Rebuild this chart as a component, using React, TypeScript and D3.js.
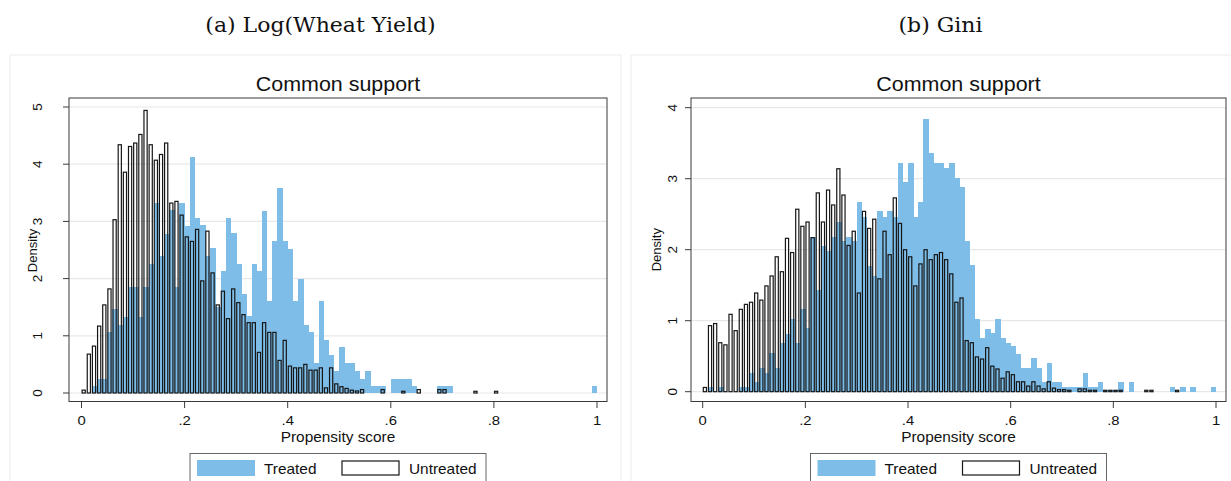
import React from "react";
import * as d3 from "d3";

// ---------- DATA (bin width 0.01, bins start at 0) ----------
const BIN_WIDTH = 0.01;

const leftTreated = [
  0, 0, 0.13, 0.25, 0.25, 1.06, 1.46, 1.19, 1.33, 1.85,
  1.85, 1.33, 1.85, 2.25, 3.32, 2.39, 2.78, 3.2, 1.85, 3.32,
  2.92, 4.12, 3.06, 2.93, 2.4, 2.53, 1.5, 2.13, 3.06, 2.79,
  2.26, 1.73, 1.34, 2.26, 2.13, 3.19, 1.6, 2.65, 3.59, 2.65,
  2.52, 1.6, 1.99, 1.19, 1.06, 0.53, 1.6, 0.92, 0.66, 0.38,
  0.8, 0.53, 0.53, 0.38, 0.25, 0.38, 0.13, 0.13, 0.13, 0,
  0.25, 0.25, 0.25, 0.25, 0.13, 0, 0, 0, 0, 0.13,
  0.13, 0.13, 0, 0, 0, 0, 0, 0, 0, 0,
  0, 0, 0, 0, 0, 0, 0, 0, 0, 0,
  0, 0, 0, 0, 0, 0, 0, 0, 0, 0.13,
];

const leftUntreated = [
  0.05, 0.68, 0.82, 1.17, 1.54, 1.82, 3.03, 4.34, 3.86, 4.31,
  4.37, 4.52, 4.94, 4.34, 4.07, 4.17, 4.37, 3.32, 3.35, 3.11,
  2.73, 2.65, 2.86, 1.96, 2.83, 2.1, 1.54, 1.78, 1.3, 1.82,
  1.58, 1.37, 1.23, 1.23, 0.71, 1.23, 1.06, 1.06, 0.57, 0.92,
  0.47, 0.44, 0.44, 0.5, 0.4, 0.4, 0.44, 0.09, 0.44, 0.16,
  0.11, 0.08, 0.05, 0.035, 0.06, 0, 0, 0, 0.06, 0,
  0, 0, 0.03, 0, 0, 0.06, 0, 0, 0, 0.06,
  0.06, 0, 0, 0, 0, 0, 0.03, 0, 0, 0,
  0.03, 0, 0, 0, 0, 0, 0, 0, 0, 0,
  0, 0, 0, 0, 0, 0, 0, 0, 0, 0,
];

const rightTreated = [
  0, 0.06, 0, 0.06, 0, 0, 0, 0.06, 0.06, 0.27,
  0.13, 0.33, 0.27, 0.54, 0.33, 0.68, 0.81, 1.02, 0.68, 1.16,
  0.9, 2.18, 1.43, 2.05, 1.98, 2.18, 2.39, 2.12, 2.18, 2.12,
  2.67, 2.46, 1.77, 1.63, 2.54, 2.46, 2.54, 2.46, 3.22, 2.95,
  3.22, 2.46, 2.67, 3.84, 3.36, 3.22, 3.22, 3.15, 3.22, 3.01,
  2.88, 2.12, 1.78, 1.02, 0.75, 0.89, 0.82, 1.02, 0.75, 0.68,
  0.64, 0.53, 0.33, 0.33, 0.47, 0.33, 0.13, 0.41, 0.13, 0.13,
  0.06, 0.06, 0.06, 0.06, 0.27, 0.06, 0.06, 0.13, 0.03, 0.03,
  0.03, 0.13, 0, 0.13, 0, 0, 0, 0, 0, 0,
  0, 0.06, 0, 0.06, 0, 0.06, 0, 0, 0, 0.06,
];

const rightUntreated = [
  0.06, 0.93, 0.96, 0.69, 0.66, 1.09, 0.86, 1.16, 1.23, 1.26,
  1.39, 1.29, 1.49, 1.63, 1.9, 1.69, 2.16, 1.96, 2.57, 2.33,
  2.39, 2.17, 2.8, 2.39, 2.84, 2.63, 3.14, 2.77, 2.06, 2.26,
  1.39, 2.54, 2.3, 2.43, 1.59, 2.26, 1.93, 2.73, 2.37, 2.0,
  1.9, 1.49, 1.8, 2.0, 1.86, 1.93, 1.96, 1.86, 1.66, 1.26,
  1.32, 0.72, 0.69, 0.49, 0.46, 0.62, 0.36, 0.32, 0.19, 0.28,
  0.24, 0.14, 0.14, 0.08, 0.14, 0.08, 0.04, 0.14, 0.05, 0.03,
  0.03, 0.02, 0, 0.04, 0.04, 0.02, 0.02, 0, 0.02, 0.02,
  0.02, 0.02, 0, 0, 0, 0, 0.02, 0.02, 0, 0,
  0, 0, 0.02, 0, 0, 0, 0, 0, 0, 0,
];

const xTicks = [0, 0.2, 0.4, 0.6, 0.8, 1];
const leftYTicks = [0, 1, 2, 3, 4, 5];
const rightYTicks = [0, 1, 2, 3, 4];
const captions = ["(a) Log(Wheat Yield)", "(b) Gini"];
const chartTitle = "Common support";
const xTitle = "Propensity score";
const yTitle = "Density";
const legendLabels = ["Treated", "Untreated"];

// ---------- STYLE ----------
const BLUE = "#7dbde8";
const DARK = "#161616";
const SANS = "'Liberation Sans', Arial, sans-serif";
const SERIF = "'DejaVu Serif', 'Liberation Serif', serif";
const SX = 1.1; // horizontal stretch of text seen in the reference

const fmtX = (d: number) =>
  d === 0 ? "0" : d === 1 ? "1" : d3.format(".1f")(d).replace(/^0/, "");

function T(props: {
  x: number; y: number; size: number; anchor?: string; family?: string;
  children: React.ReactNode; fill?: string;
}) {
  const { x, y, size, anchor = "middle", family = SANS, children, fill = "#111" } = props;
  return (
    <text
      transform={`translate(${x},${y}) scale(${SX},1)`}
      fontSize={size}
      fontFamily={family}
      textAnchor={anchor}
      fill={fill}
    >
      {children}
    </text>
  );
}

type PanelProps = {
  caption: string;
  frame: [number, number];
  box: { l: number; r: number; t: number; b: number };
  xr: [number, number];
  yd: [number, number];
  yr: [number, number];
  yTicks: number[];
  treated: number[];
  untreated: number[];
  yLabelX: number;
  yTitleX: number;
  yTitleY: number;
};

function Panel(p: PanelProps) {
  const xs = d3.scaleLinear().domain([0, 1]).range(p.xr);
  const ys = d3.scaleLinear().domain(p.yd).range(p.yr);
  const cx = (p.box.l + p.box.r) / 2;
  const bw = xs(BIN_WIDTH) - xs(0);
  const legW = 296;
  const legL = cx - legW / 2;

  return (
    <g>
      {/* caption */}
      <T x={(p.frame[0] + p.frame[1]) / 2 + 5} y={32} size={20} family={SERIF}>
        {p.caption}
      </T>
      {/* faint outer frame */}
      <rect
        x={p.frame[0]} y={55} width={p.frame[1] - p.frame[0]} height={440}
        fill="#fff" stroke="#ececec" strokeWidth={1}
      />
      {/* title */}
      <T x={cx} y={91} size={19.5}>{chartTitle}</T>

      {/* plot region */}
      <rect x={p.box.l} y={p.box.t} width={p.box.r - p.box.l} height={p.box.b - p.box.t} fill="#fff" />
      {p.yTicks.map((t) => (
        <line key={"g" + t} x1={p.box.l} x2={p.box.r} y1={ys(t)} y2={ys(t)} stroke="#e8e8e8" strokeWidth={1.2} />
      ))}

      {/* treated bars */}
      {p.treated.map((v, i) =>
        v > 0 ? (
          <rect
            key={"t" + i}
            x={xs(i * BIN_WIDTH)}
            width={bw + 0.4}
            y={ys(v)}
            height={ys(0) - ys(v)}
            fill={BLUE}
            shapeRendering="crispEdges"
          />
        ) : null
      )}

      {/* untreated outlined bars */}
      {p.untreated.map((v, i) =>
        v > 0 ? (
          <rect
            key={"u" + i}
            x={xs(i * BIN_WIDTH) + 0.6}
            width={bw * 0.85 - 1.2}
            y={ys(v)}
            height={Math.max(ys(0) - ys(v), 0.5)}
            fill="none"
            stroke={DARK}
            strokeWidth={1.2}
          />
        ) : null
      )}

      {/* plot border */}
      <rect
        x={p.box.l} y={p.box.t} width={p.box.r - p.box.l} height={p.box.b - p.box.t}
        fill="none" stroke="#3a3a3a" strokeWidth={1}
      />

      {/* y axis */}
      {p.yTicks.map((t) => (
        <g key={"y" + t}>
          <line x1={p.box.l - 6} x2={p.box.l} y1={ys(t)} y2={ys(t)} stroke="#3a3a3a" strokeWidth={1} />
          <text
            transform={`translate(${p.yLabelX},${ys(t)}) rotate(-90)`}
            fontSize={13.5}
            fontFamily={SANS}
            textAnchor="middle"
            fill="#111"
          >
            {t}
          </text>
        </g>
      ))}
      <text
        transform={`translate(${p.yTitleX},${p.yTitleY}) rotate(-90)`}
        fontSize={13}
        fontFamily={SANS}
        textAnchor="middle"
        fill="#111"
      >
        {yTitle}
      </text>

      {/* x axis */}
      {xTicks.map((t) => (
        <g key={"x" + t}>
          <line x1={xs(t)} x2={xs(t)} y1={p.box.b} y2={p.box.b + 6.5} stroke="#3a3a3a" strokeWidth={1} />
          <T x={xs(t)} y={425} size={13.5}>{fmtX(t)}</T>
        </g>
      ))}
      <T x={cx} y={442} size={14}>{xTitle}</T>

      {/* legend */}
      <rect x={legL} y={453.5} width={legW} height={40} fill="#fff" stroke="#666" strokeWidth={1} />
      <rect x={legL + 7} y={460} width={58} height={16} fill={BLUE} />
      <T x={legL + 74} y={474} size={14} anchor="start">{legendLabels[0]}</T>
      <rect x={legL + 152} y={461} width={57} height={14} fill="#fff" stroke={DARK} strokeWidth={1.2} />
      <T x={legL + 219} y={474} size={14} anchor="start">{legendLabels[1]}</T>
    </g>
  );
}

export default function App() {
  return (
    <svg
      width={1231}
      height={481}
      style={{ position: "absolute", left: 0, top: 0, background: "#fff" }}
    >
      <rect x={0} y={0} width={1231} height={481} fill="#fff" />
      <Panel
        caption={captions[0]}
        frame={[10, 621]}
        box={{ l: 69, r: 607, t: 98, b: 401.5 }}
        xr={[81.5, 597]}
        yd={[0, 5]}
        yr={[393, 107]}
        yTicks={leftYTicks}
        treated={leftTreated}
        untreated={leftUntreated}
        yLabelX={42}
        yTitleX={37}
        yTitleY={250.5}
      />
      <Panel
        caption={captions[1]}
        frame={[631, 1240]}
        box={{ l: 691, r: 1226, t: 98, b: 401.5 }}
        xr={[702.7, 1216]}
        yd={[0, 4]}
        yr={[391.7, 107.7]}
        yTicks={rightYTicks}
        treated={rightTreated}
        untreated={rightUntreated}
        yLabelX={677}
        yTitleX={661}
        yTitleY={249.7}
      />
    </svg>
  );
}
